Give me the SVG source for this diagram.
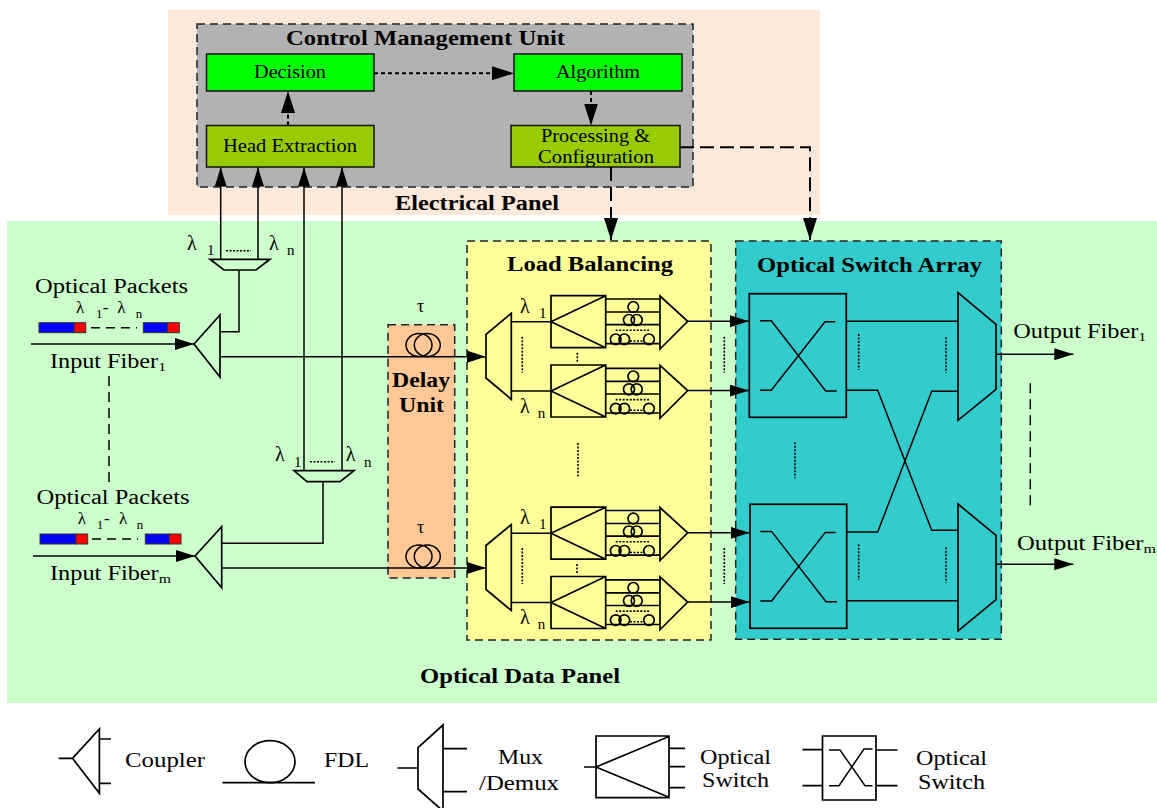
<svg xmlns="http://www.w3.org/2000/svg" xmlns:xlink="http://www.w3.org/1999/xlink" width="1157" height="808" viewBox="0 0 1157 808">
<style>
text{font-family:"Liberation Serif","Times New Roman",serif;fill:#000;font-size:20px}
.b{font-weight:bold}
.s{font-size:13px}
.sl{font-size:15px}
.lam{font-size:17px}
.m{font-size:18px}
.l{fill:none;stroke:#000;stroke-width:1.5}
.sh{fill:none;stroke:#000;stroke-width:1.7}
.d{fill:none;stroke:#000;stroke-width:1.6;stroke-dasharray:2 1.5}
.panel{stroke:#222;stroke-width:1.5;stroke-dasharray:8 5}
.box{stroke:#111;stroke-width:1.5}
.arr{marker-end:url(#ah)}
.ctl{fill:none;stroke:#000;stroke-width:2;marker-end:url(#ahb)}
</style>
<defs>
<marker id="ah" markerUnits="userSpaceOnUse" markerWidth="20" markerHeight="14" refX="19" refY="6" orient="auto"><path d="M0 0L19 6L0 12Z" fill="#000"/></marker>
<marker id="ahb" markerUnits="userSpaceOnUse" markerWidth="23" markerHeight="16" refX="22" refY="7" orient="auto"><path d="M0 0L22 7L0 14Z" fill="#000"/></marker>
<g id="lbPair">
<path class="sh" d="M551 295.700H605.700V347.700H551ZM551 321.700L605.700 295.700M551 321.700L605.700 347.700"/>
<path class="sh" d="M605.700 299H660M605.700 312H660M605.700 324.700H660M605.700 343.700H660"/>
<path class="sh" d="M660 296L687.700 321.300L660 349Z"/>
<g class="sh"><circle cx="633.300" cy="307" r="5.300"/><circle cx="629" cy="320" r="5.500"/><circle cx="636.700" cy="320" r="5.500"/><circle cx="615.700" cy="339.300" r="5.300"/><circle cx="624.300" cy="339.300" r="5.300"/><circle cx="649" cy="339.300" r="5.300"/></g>
<path class="d" d="M615.700 330.300H649M630 341H643"/>
</g>
<g id="xsw"><path class="l" d="M760 320.700H771.300L825.700 391H836.700M760 390.300H771.300L825 321.700H835.300"/></g>
</defs>

<g id="electrical-panel"><rect x="168" y="10" width="652" height="205" fill="#fde9d9"/><text class="b" x="395" y="210" textLength="164" lengthAdjust="spacingAndGlyphs">Electrical Panel</text></g>
<g id="optical-data-panel"><rect x="7" y="221" width="1150" height="482" fill="#ccffcc"/><text class="b" x="420" y="683" textLength="200" lengthAdjust="spacingAndGlyphs">Optical Data Panel</text></g>

<g id="control-management-unit"><rect class="panel" x="197" y="24" width="496" height="163" fill="#b2b2b2"/><text class="b" x="286" y="45" textLength="279" lengthAdjust="spacingAndGlyphs">Control Management Unit</text></g>
<g id="decision"><rect class="box" x="206.500" y="54" width="167.500" height="37" fill="#00ff00"/><text class="m" x="254" y="78" textLength="72" lengthAdjust="spacingAndGlyphs">Decision</text></g>
<g id="algorithm"><rect class="box" x="514" y="54" width="168" height="37" fill="#00ff00"/><text class="m" x="556" y="78" textLength="84" lengthAdjust="spacingAndGlyphs">Algorithm</text></g>
<g id="head-extraction"><rect class="box" x="206.500" y="125.500" width="167.500" height="41.500" fill="#99cc00"/><text class="m" x="223" y="152" textLength="134" lengthAdjust="spacingAndGlyphs">Head Extraction</text></g>
<g id="processing"><rect class="box" x="511" y="125.500" width="169" height="41.500" fill="#99cc00"/><text class="m" x="541" y="142" textLength="109" lengthAdjust="spacingAndGlyphs">Processing &amp;</text><text class="m" x="538" y="163" textLength="116" lengthAdjust="spacingAndGlyphs">Configuration</text></g>

<g id="delay-unit"><rect class="panel" x="388" y="324.700" width="66.700" height="253.300" fill="#ffc896"/>
<text class="b" x="392" y="387" style="font-size:21px" textLength="58" lengthAdjust="spacingAndGlyphs">Delay</text><text class="b" x="399" y="412" style="font-size:21px" textLength="45" lengthAdjust="spacingAndGlyphs">Unit</text>
<text class="m" x="417" y="311.700">τ</text><text class="m" x="417" y="533">τ</text>
<g class="l"><ellipse cx="419" cy="345" rx="13" ry="11.500"/><ellipse cx="427.300" cy="345" rx="13" ry="11.500"/><ellipse cx="419" cy="556.500" rx="13" ry="11.500"/><ellipse cx="427.300" cy="556.500" rx="13" ry="11.500"/></g></g>

<g id="load-balancing"><rect class="panel" x="467" y="241" width="244" height="399" fill="#ffff99"/><text class="b" x="507" y="271" textLength="166" lengthAdjust="spacingAndGlyphs">Load Balancing</text>
<use xlink:href="#lbPair" href="#lbPair"/><use xlink:href="#lbPair" href="#lbPair" transform="translate(0,69.300)"/><use xlink:href="#lbPair" href="#lbPair" transform="translate(0,211.500)"/><use xlink:href="#lbPair" href="#lbPair" transform="translate(0,280.800)"/>
<path class="sh" d="M486 334.300L511.300 313.300V399.300L486 378Z"/>
<path class="sh" d="M486 545.500L511.300 524.500V610.500L486 589.500Z"/>
<text x="520" y="312.700">λ<tspan class="sl" x="539" y="317.700">1</tspan></text>
<text x="520" y="412.700">λ<tspan class="sl" x="537.700" y="417.700">n</tspan></text>
<text x="520" y="524">λ<tspan class="sl" x="539" y="529">1</tspan></text>
<text x="520" y="624">λ<tspan class="sl" x="537.700" y="629">n</tspan></text>
<path class="d" d="M522.300 336.700V372.700M522.300 548V584M577.300 352.700V361.700M577 564V573M578 443V478"/>
</g>

<g id="optical-switch-array"><rect class="panel" x="735.700" y="241" width="265.600" height="398.300" fill="#33cccc"/><text class="b" x="757" y="271.700" textLength="225" lengthAdjust="spacingAndGlyphs">Optical Switch Array</text>
<rect class="sh" x="749.300" y="293.700" width="97" height="123.600"/><rect class="sh" x="750" y="504.300" width="96.700" height="124"/>
<use xlink:href="#xsw" href="#xsw"/><use xlink:href="#xsw" href="#xsw" transform="translate(0.300,210.700)"/>
<path class="sh" d="M958 292.700L996 324.300V389.300L958 420.300Z"/>
<path class="sh" d="M958 504L996 535.300V599.700L958 631Z"/>
<path class="d" d="M858.700 334V370M946 337.300V372.700M795 442.300V478.300M858.700 544.300V580M946 547.300V582.700M724.300 336.700V372.700M724.300 548V584"/>
</g>

<g id="input-fiber-1">
<text x="35" y="293" textLength="153" lengthAdjust="spacingAndGlyphs">Optical Packets</text>
<text class="lam" x="76" y="313">λ<tspan x="96" y="318" style="font-size:13px">1</tspan><tspan x="102.700" y="313">-</tspan><tspan x="117.300" y="313">λ</tspan><tspan x="135.700" y="318" style="font-size:13px">n</tspan></text>
<g stroke="#333"><rect x="39" y="322.700" width="35.300" height="10" fill="#0000ff"/><rect x="74.300" y="322.700" width="11.400" height="10" fill="#ff0000"/><rect x="143.300" y="322.700" width="24.400" height="10" fill="#0000ff"/><rect x="167.700" y="322.700" width="11.600" height="10" fill="#ff0000"/></g>
<path class="l" d="M91 327.700H137" stroke-dasharray="9 6"/>
<text x="50" y="368" textLength="116" lengthAdjust="spacingAndGlyphs">Input Fiber<tspan class="s" dy="3">1</tspan></text>
<path class="sh" d="M194 344L220 315V377Z"/>
</g>
<g id="input-fiber-m">
<text x="36.500" y="504" textLength="153" lengthAdjust="spacingAndGlyphs">Optical Packets</text>
<text class="lam" x="77.700" y="524">λ<tspan x="96.700" y="529" style="font-size:13px">1</tspan><tspan x="104" y="524">-</tspan><tspan x="119" y="524">λ</tspan><tspan x="136.700" y="529" style="font-size:13px">n</tspan></text>
<g stroke="#333"><rect x="40" y="534" width="36" height="10" fill="#0000ff"/><rect x="76" y="534" width="11.700" height="10" fill="#ff0000"/><rect x="145.300" y="534" width="24" height="10" fill="#0000ff"/><rect x="169.300" y="534" width="11.700" height="10" fill="#ff0000"/></g>
<path class="l" d="M92 539H138" stroke-dasharray="9 6"/>
<text x="50" y="580" textLength="121" lengthAdjust="spacingAndGlyphs">Input Fiber<tspan class="s" dy="3">m</tspan></text>
<path class="sh" d="M195 556L221.700 526.700V587.700Z"/>
</g>

<g id="mux-1"><path class="sh" d="M210 259.300H270L256 270H224Z"/><path class="d" d="M226 250.700H251"/>
<text x="187" y="250">λ<tspan class="sl" x="207" y="255">1</tspan></text><text x="269" y="250">λ<tspan class="sl" x="287" y="255">n</tspan></text></g>
<g id="mux-2"><path class="sh" d="M294 470.700H354L340 481.700H307Z"/><path class="d" d="M310 461.700H335"/>
<text x="275" y="460.700">λ<tspan class="sl" x="294" y="466.700">1</tspan></text><text x="345.700" y="460.700">λ<tspan class="sl" x="364" y="467">n</tspan></text></g>

<g id="output-labels">
<text x="1013.300" y="338.300" textLength="133" lengthAdjust="spacingAndGlyphs">Output Fiber<tspan class="s" dy="3">1</tspan></text>
<text x="1017" y="550" textLength="139" lengthAdjust="spacingAndGlyphs">Output Fiber<tspan class="s" dy="3">m</tspan></text>
</g>

<g id="connectors">
<path class="l arr" d="M220.700 259.300V167.500"/><path class="l arr" d="M258 259.300V167.500"/><path class="l arr" d="M304 470.700V167.500"/><path class="l arr" d="M342 470.700V167.500"/>
<path class="l" d="M239 270V331.700H220"/><path class="l" d="M323 481.700V543.300H221.700"/>
<path class="l arr" d="M31 344H194"/><path class="l arr" d="M33 556H195"/>
<path class="l arr" d="M220 356.700H486"/><path class="l arr" d="M221.700 568H486"/>
<path class="l" d="M511.300 321.700H551M511.300 391H551M511.300 533.200H551M511.300 602.500H551"/>
<path class="l arr" d="M687.700 321.300H749"/><path class="l arr" d="M687.700 390.600H749"/><path class="l arr" d="M687.700 532.800H749.500"/><path class="l arr" d="M687.700 602.100H749.500"/>
<path class="l" d="M846.300 321.300H958M846.300 390.300H877.700L931.700 530.300H958M846.700 532H877.700L931.700 391.300H958M846.700 600.700H958"/>
<path class="l arr" d="M996 354.300H1073.300"/><path class="l arr" d="M996 564.300H1073.300"/>
<path class="ctl" d="M374 73.300H514" stroke-dasharray="4 3"/>
<path class="ctl" d="M288 125.500V91" stroke-dasharray="4 3"/>
<path class="ctl" d="M591 91V125.500" stroke-dasharray="4 3"/>
<path class="ctl" d="M611 167V240" stroke-dasharray="14 6"/>
<path class="ctl" d="M680 147.300H810V240" stroke-dasharray="14 6"/>
<path class="l" d="M109 376V482M1030.300 383.300V508.300" stroke-dasharray="10 6"/>
</g>

<g id="legend-coupler"><path class="sh" d="M58.700 758.300H72.500L99.400 729V793.300L72.500 758.300M99.400 739H111M99.400 783.300H111"/><text x="125" y="767" textLength="80" lengthAdjust="spacingAndGlyphs">Coupler</text></g>
<g id="legend-fdl"><ellipse class="sh" cx="270" cy="761.700" rx="25" ry="21"/><path class="sh" d="M222.500 782.700H315"/><text x="324" y="767" textLength="45" lengthAdjust="spacingAndGlyphs">FDL</text></g>
<g id="legend-mux"><path class="sh" d="M397.500 768H418M443 725L418 747.700V789L443 811ZM443 748.700H467M443 791.700H467"/><text x="498" y="764" textLength="45" lengthAdjust="spacingAndGlyphs">Mux</text><text x="479" y="790" textLength="80" lengthAdjust="spacingAndGlyphs">/Demux</text></g>
<g id="legend-switch-1"><path class="sh" d="M596 736H669V797.700H596ZM584 767H596L669 736.500M596 767L669 797.300M669 748.300H685M669 766.700H685M669 787.700H685"/><text x="700" y="764" textLength="71" lengthAdjust="spacingAndGlyphs">Optical</text><text x="702" y="787" textLength="67" lengthAdjust="spacingAndGlyphs">Switch</text></g>
<g id="legend-switch-2"><path class="sh" d="M822.500 736H876V800H822.500ZM802.500 749.700H822.500M802.500 785.700H822.500M876 750H897.500M876 785.700H897.500"/><path class="l" d="M829 750H840L865 785.700H872.500M829 785.700H839L864 749H872.500"/><text x="916" y="765" textLength="71" lengthAdjust="spacingAndGlyphs">Optical</text><text x="918" y="789" textLength="67" lengthAdjust="spacingAndGlyphs">Switch</text></g>
</svg>
